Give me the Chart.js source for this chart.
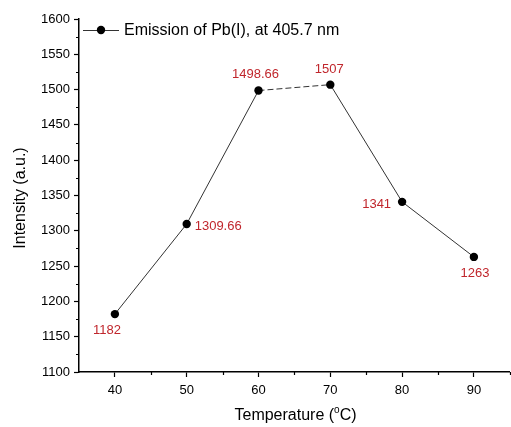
<!DOCTYPE html>
<html>
<head>
<meta charset="utf-8">
<script src="https://cdn.jsdelivr.net/npm/chart.js@4"></script>
<style>
  html, body { margin: 0; padding: 0; background: #fff; overflow: hidden; }
  #wrap { width: 514px; height: 427px; }
</style>
</head>
<body>
<div id="wrap"><canvas id="chart"></canvas></div>
<script>
// data
const temperatures = [40, 50, 60, 70, 80, 90];
const intensities = [1182, 1309.66, 1498.66, 1507, 1341, 1263];
const pointLabels = ['1182', '1309.66', '1498.66', '1507', '1341', '1263'];
const xTicks = [40, 50, 60, 70, 80, 90];
const xMinorTicks = [45, 55, 65, 75, 85, 95];
const yMinorTicks = [1125, 1175, 1225, 1275, 1325, 1375, 1425, 1475, 1525, 1575];
const seriesName = 'Emission of Pb(I), at 405.7 nm';

const FONT = '"Liberation Sans", Arial, sans-serif';
const RED = '#c0262c';

// where each value label sits relative to its point (dx, dy, align)
const labelPlace = [
  [-8, 16, 'center'],
  [8, 2, 'left'],
  [-3, -16, 'center'],
  [-1, -15, 'center'],
  [-11, 3, 'right'],
  [1, 16, 'center']
];

const extras = {
  id: 'extras',
  afterDraw(chart) {
    const ctx = chart.ctx;
    const x = chart.scales.x, y = chart.scales.y;
    const area = chart.chartArea;
    ctx.save();
    // minor ticks
    ctx.strokeStyle = '#000';
    ctx.lineWidth = 1.2;
    ctx.beginPath();
    xMinorTicks.forEach(v => {
      const px = Math.round(x.getPixelForValue(v)) + 0.5;
      ctx.moveTo(px, area.bottom);
      ctx.lineTo(px, area.bottom + 3);
    });
    yMinorTicks.forEach(v => {
      const py = Math.round(y.getPixelForValue(v)) + 0.5;
      ctx.moveTo(area.left, py);
      ctx.lineTo(area.left - 3, py);
    });
    ctx.stroke();

    // value labels
    ctx.fillStyle = RED;
    ctx.font = '13px ' + FONT;
    ctx.textBaseline = 'middle';
    temperatures.forEach((t, i) => {
      const px = x.getPixelForValue(t), py = y.getPixelForValue(intensities[i]);
      const p = labelPlace[i];
      ctx.textAlign = p[2];
      ctx.fillText(pointLabels[i], px + p[0], py + p[1]);
    });

    // legend
    const ly = 30;
    ctx.strokeStyle = '#333';
    ctx.lineWidth = 1;
    ctx.beginPath();
    ctx.moveTo(83, ly + 0.5);
    ctx.lineTo(119, ly + 0.5);
    ctx.stroke();
    ctx.fillStyle = '#000';
    ctx.beginPath();
    ctx.arc(101, ly, 4.2, 0, Math.PI * 2);
    ctx.fill();
    ctx.font = '16px ' + FONT;
    ctx.textAlign = 'left';
    ctx.fillText(seriesName, 124, ly + 1);

    // y title
    ctx.save();
    ctx.translate(21, 198);
    ctx.rotate(-Math.PI / 2);
    ctx.textAlign = 'center';
    ctx.fillText('Intensity (a.u.)', 0, 0);
    ctx.restore();

    // x title with superscript
    const yT = 416;
    ctx.textAlign = 'left';
    const a = 'Temperature (', b = 'o', c = 'C)';
    ctx.font = '16px ' + FONT;
    const wa = ctx.measureText(a).width, wc = ctx.measureText(c).width;
    ctx.font = '10px ' + FONT;
    const wb = ctx.measureText(b).width;
    let sx = 295.5 - (wa + wb + wc) / 2;
    ctx.font = '16px ' + FONT;
    ctx.fillText(a, sx, yT);
    ctx.font = '10px ' + FONT;
    ctx.fillText(b, sx + wa, yT - 6);
    ctx.font = '16px ' + FONT;
    ctx.fillText(c, sx + wa + wb, yT);
    ctx.restore();
  }
};

new Chart(document.getElementById('chart'), {
  type: 'line',
  data: {
    datasets: [{
      label: seriesName,
      data: temperatures.map((t, i) => ({ x: t, y: intensities[i] })),
      borderColor: '#333',
      borderWidth: 1,
      pointBackgroundColor: '#000',
      pointBorderColor: '#000',
      pointRadius: 4.2,
      pointBorderWidth: 0,
      tension: 0,
      segment: {
        borderDash: s => (s.p0DataIndex === 2 ? [6, 3] : undefined)
      }
    }]
  },
  options: {
    responsive: true,
    maintainAspectRatio: false,
    animation: false,
    layout: { padding: { top: 19, right: 1, left: 0, bottom: 0 } },
    plugins: { legend: { display: false }, tooltip: { enabled: false } },
    scales: {
      x: {
        type: 'linear',
        min: 35,
        max: 95,
        afterBuildTicks: s => { s.ticks = xTicks.map(v => ({ value: v })); },
        afterFit: s => { s.height = 55; },
        grid: { drawOnChartArea: false, tickLength: 5, tickColor: '#000', tickWidth: 1.2 },
        border: { color: '#000', width: 1.5 },
        ticks: { color: '#000', font: { family: FONT, size: 13 }, padding: 6, maxRotation: 0, callback: v => String(v) }
      },
      y: {
        min: 1100,
        max: 1600,
        ticks: { stepSize: 50, color: '#000', font: { family: FONT, size: 13 }, padding: 4, callback: v => String(v) },
        afterFit: s => { s.width = 79; },
        grid: { drawOnChartArea: false, tickLength: 5, tickColor: '#000', tickWidth: 1.2 },
        border: { color: '#000', width: 1.5 }
      }
    }
  },
  plugins: [extras]
});
</script>
</body>
</html>
